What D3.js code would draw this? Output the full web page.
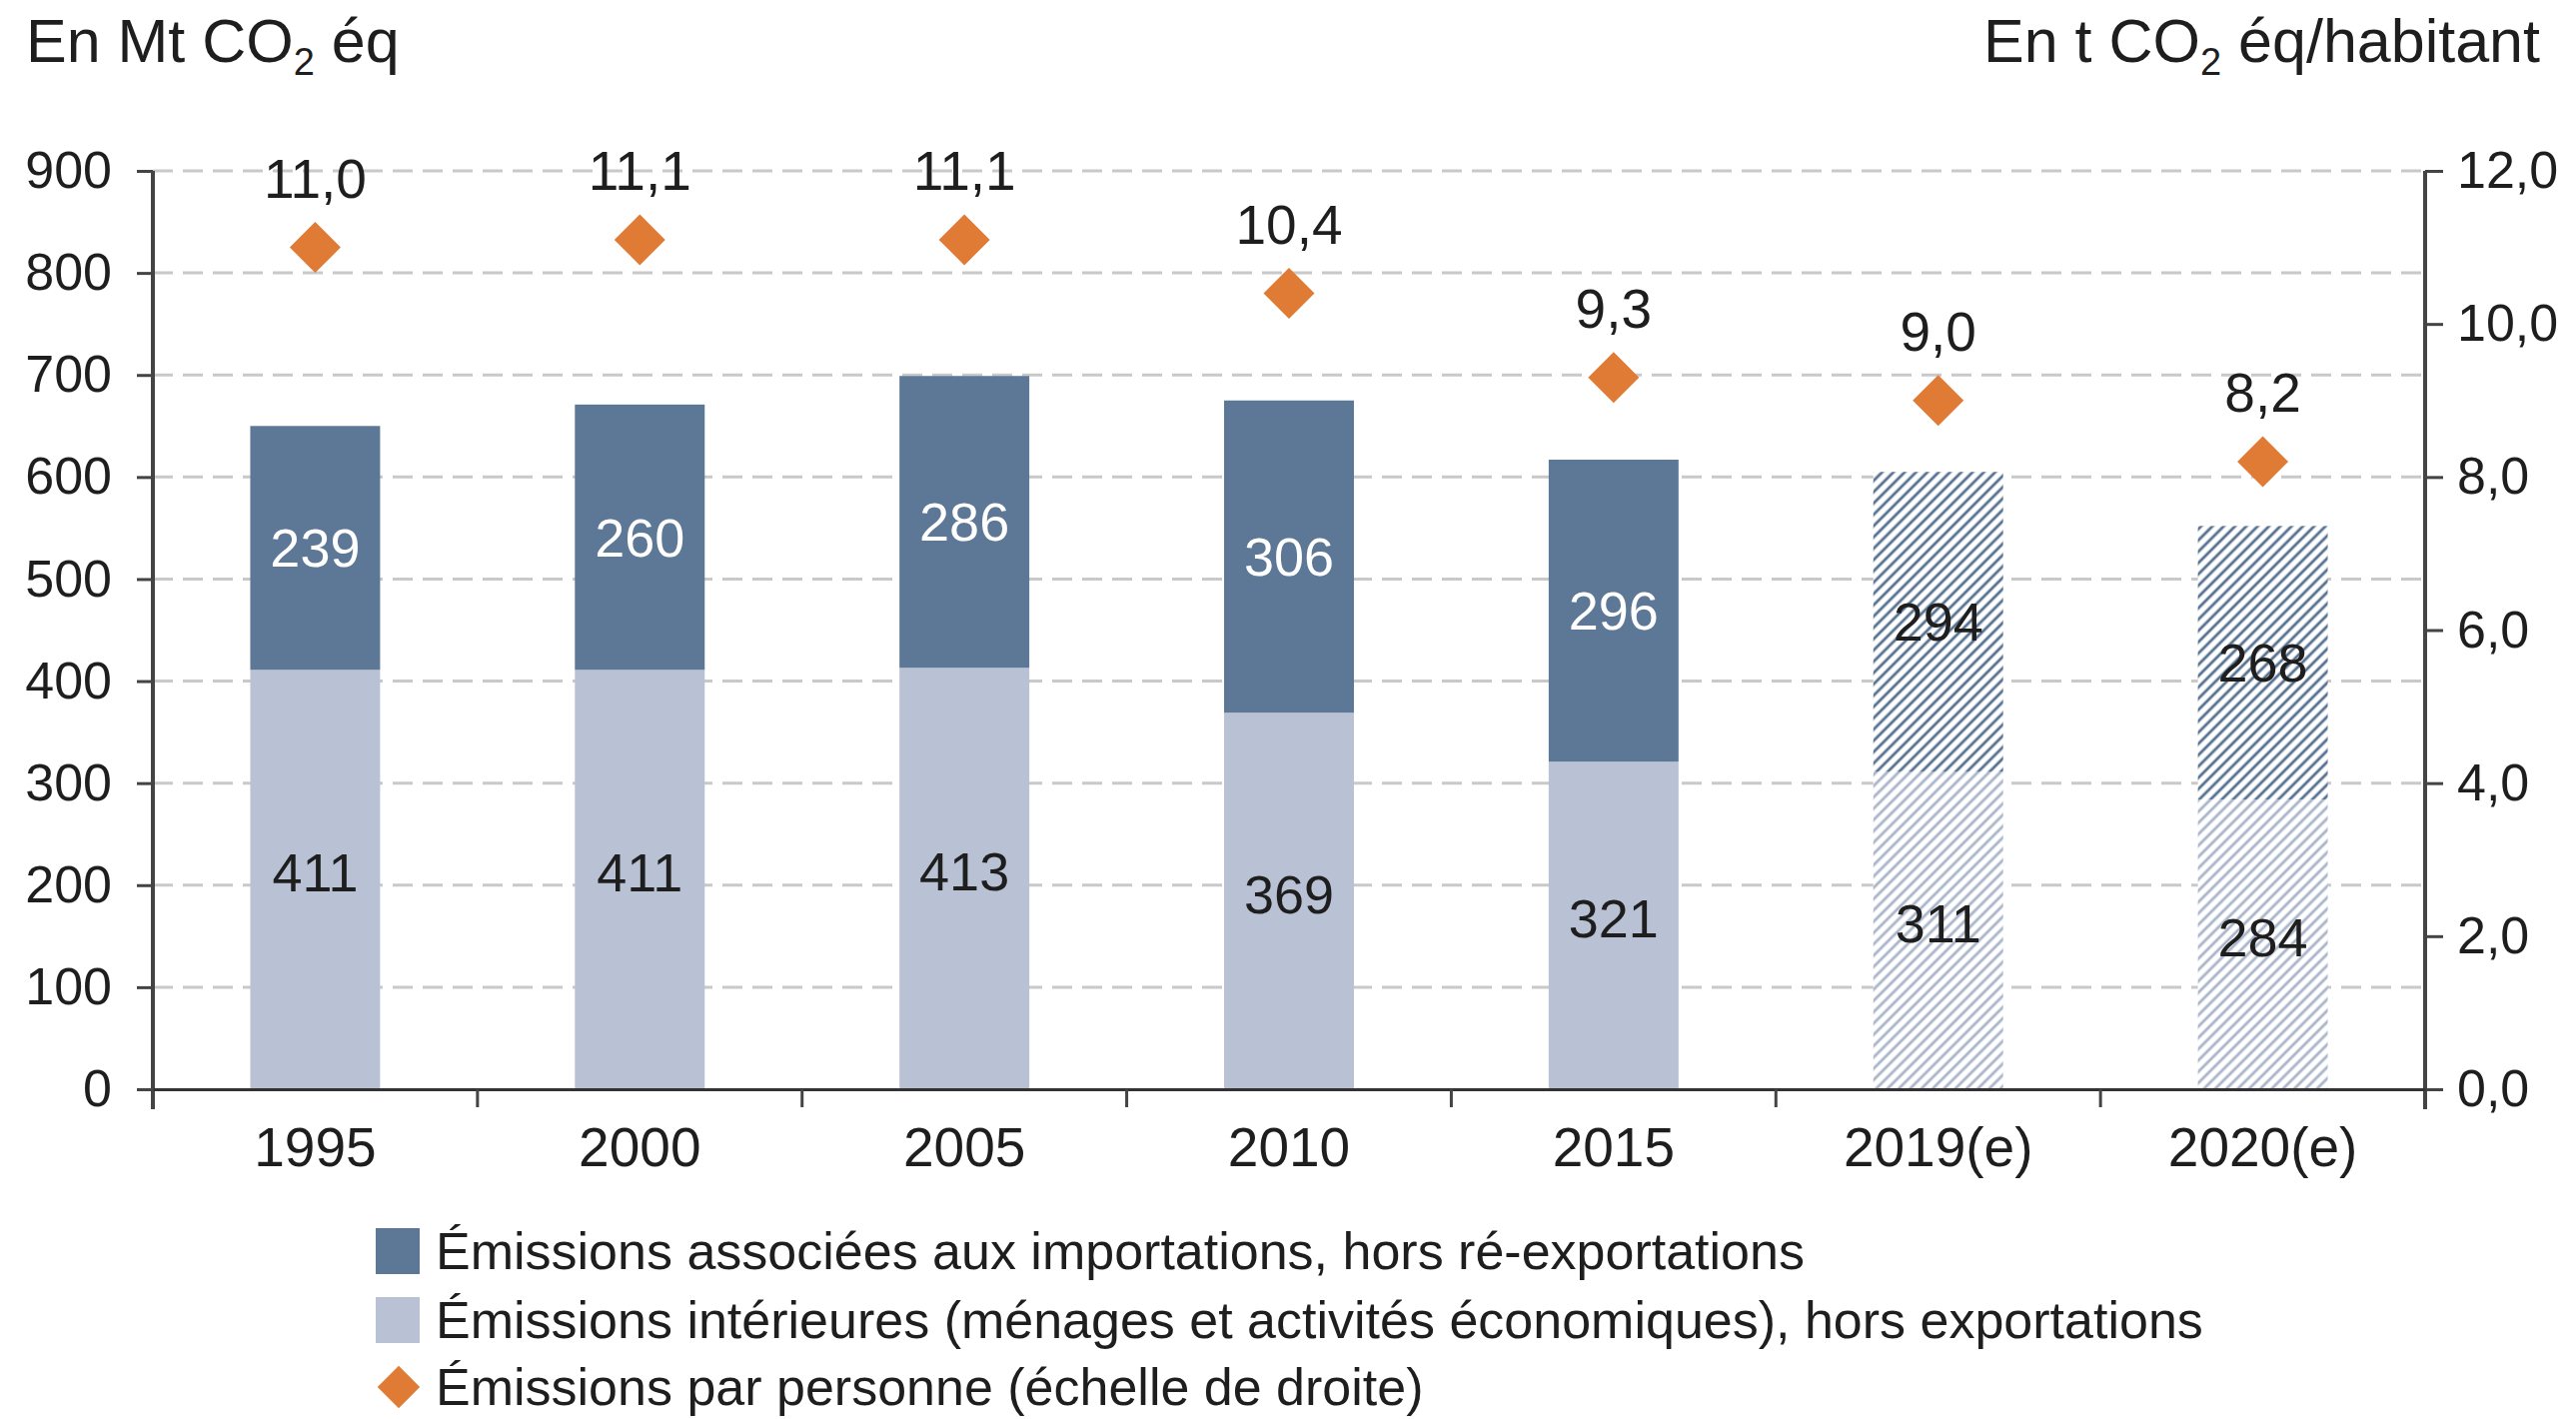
<!DOCTYPE html>
<html>
<head>
<meta charset="utf-8">
<script src="https://cdn.jsdelivr.net/npm/d3@7"></script>
<style>
body { margin: 0; background: #fff; }
text { font-family: "Liberation Sans", Arial, sans-serif; fill: #1e1e1e; }
</style>
</head>
<body>
<script>
// data
var years = ["1995", "2000", "2005", "2010", "2015", "2019(e)", "2020(e)"];
var domestic = [411, 411, 413, 369, 321, 311, 284];
var imports = [239, 260, 286, 306, 296, 294, 268];
var perCapita = [11.0, 11.1, 11.1, 10.4, 9.3, 9.0, 8.2];
var estimated = [false, false, false, false, false, true, true];
var leftTicks = [0, 100, 200, 300, 400, 500, 600, 700, 800, 900];
var rightTicks = [0, 2, 4, 6, 8, 10, 12];
var legendLabels = [
    "Émissions associées aux importations, hors ré-exportations",
    "Émissions intérieures (ménages et activités économiques), hors exportations",
    "Émissions par personne (échelle de droite)"
];

var width = 2578,
    height = 1420;

var colDark = "#5d7896",
    colLight = "#b8c2d4",
    colOrange = "#e07b35";

var fr = d3.formatLocale({decimal: ",", thousands: " ", grouping: [3], currency: ["", " €"]});
var f1 = fr.format(".1f");

var svg = d3.select("body").append("svg")
    .attr("width", width)
    .attr("height", height)

svg.append("rect").attr("width", width).attr("height", height).attr("fill", "#fff")

// hatch patterns for estimated years
var defs = svg.append("defs")
function hatch(id, color) {
    var p = defs.append("pattern")
        .attr("id", id)
        .attr("patternUnits", "userSpaceOnUse")
        .attr("width", 8)
        .attr("height", 8)
        .attr("patternTransform", "rotate(45)")
    p.append("rect").attr("width", 8).attr("height", 8).attr("fill", "#fff")
    p.append("line")
        .attr("x1", 2).attr("y1", 0)
        .attr("x2", 2).attr("y2", 8)
        .attr("stroke", color)
        .attr("stroke-width", 2.8)
}
hatch("hatchDark", "#56718f")
hatch("hatchLight", "#a9b5c9")

var x = d3.scaleBand()
    .domain(years)
    .range([153, 2427])
    .paddingInner(0.6)
    .paddingOuter(0.3)

var y = d3.scaleLinear().domain([0, 900]).range([1090, 171])
var y2 = d3.scaleLinear().domain([0, 12]).range([1090, 171])

var rows = years.map(function (d, i) {
    return {year: d, domestic: domestic[i], imports: imports[i], pc: perCapita[i], est: estimated[i]}
})

/* dashed grid */
svg.append("g").selectAll("line")
    .data(leftTicks.slice(1))
    .enter().append("line")
    .attr("x1", 153).attr("x2", 2427)
    .attr("y1", function (d) { return y(d) })
    .attr("y2", function (d) { return y(d) })
    .attr("stroke", "#c9c9c9")
    .attr("stroke-width", 3)
    .attr("stroke-dasharray", "20 10")

/* stacked bars */
var stack = d3.stack().keys(["domestic", "imports"])(rows)

var layer = svg.append("g").selectAll("g")
    .data(stack)
    .enter().append("g")

layer.selectAll("rect")
    .data(function (s) { return s.map(function (d) { return {key: s.key, d: d} }) })
    .enter().append("rect")
    .attr("x", function (o) { return x(o.d.data.year) })
    .attr("width", x.bandwidth())
    .attr("y", function (o) { return y(o.d[1]) })
    .attr("height", function (o) { return y(o.d[0]) - y(o.d[1]) })
    .attr("fill", function (o) {
        if (o.d.data.est) return o.key == "imports" ? "url(#hatchDark)" : "url(#hatchLight)"
        return o.key == "imports" ? colDark : colLight
    })

/* value labels */
layer.selectAll("text")
    .data(function (s) { return s.map(function (d) { return {key: s.key, d: d} }) })
    .enter().append("text")
    .attr("x", function (o) { return x(o.d.data.year) + x.bandwidth() / 2 })
    .attr("y", function (o) { return (y(o.d[0]) + y(o.d[1])) / 2 + (o.key == "domestic" ? 12 : 19) })
    .attr("text-anchor", "middle")
    .style("font-size", "54px")
    .style("fill", function (o) {
        return (o.key == "imports" && !o.d.data.est) ? "#fff" : "#1e1e1e"
    })
    .text(function (o) { return o.d.data[o.key] })

/* axes */
var axisCol = "#444"

var gl = svg.append("g")
    .attr("transform", "translate(153,0)")
    .call(d3.axisLeft(y).tickValues(leftTicks).tickSize(16).tickPadding(25).tickSizeOuter(0))
gl.select(".domain").remove()
gl.selectAll("line").attr("stroke", axisCol).attr("stroke-width", 3)
gl.selectAll("text").style("font-size", "52px").attr("fill", "#1e1e1e")
gl.append("line").attr("y1", y(900)).attr("y2", y(0) + 20).attr("stroke", axisCol).attr("stroke-width", 4)

var gr = svg.append("g")
    .attr("transform", "translate(2427,0)")
    .call(d3.axisRight(y2).tickValues(rightTicks).tickSize(18).tickPadding(14).tickFormat(f1).tickSizeOuter(0))
gr.select(".domain").remove()
gr.selectAll("line").attr("stroke", axisCol).attr("stroke-width", 3)
gr.selectAll("text").style("font-size", "52px").attr("fill", "#1e1e1e")
gr.append("line").attr("y1", y2(12)).attr("y2", y2(0) + 20).attr("stroke", axisCol).attr("stroke-width", 4)

var gb = svg.append("g")
    .attr("transform", "translate(0,1090)")
    .call(d3.axisBottom(x).tickSize(0).tickPadding(38))
gb.select(".domain").attr("stroke", "#333").attr("stroke-width", 3)
gb.selectAll("text").style("font-size", "55px").attr("fill", "#1e1e1e")

// ticks between categories
gb.selectAll(".sep")
    .data(years.slice(0, -1))
    .enter().append("line")
    .attr("class", "sep")
    .attr("x1", function (d) { return x(d) + x.bandwidth() / 2 + x.step() / 2 })
    .attr("x2", function (d) { return x(d) + x.bandwidth() / 2 + x.step() / 2 })
    .attr("y1", 0).attr("y2", 18)
    .attr("stroke", axisCol).attr("stroke-width", 3)

/* per-capita diamonds */
var diamond = d3.symbol().type(d3.symbolSquare).size(1300)

svg.append("g").selectAll("path")
    .data(rows)
    .enter().append("path")
    .attr("d", diamond)
    .attr("transform", function (d) {
        return "translate(" + (x(d.year) + x.bandwidth() / 2) + "," + y2(d.pc) + ") rotate(45)"
    })
    .attr("fill", colOrange)

svg.append("g").selectAll("text")
    .data(rows)
    .enter().append("text")
    .attr("x", function (d) { return x(d.year) + x.bandwidth() / 2 })
    .attr("y", function (d) { return y2(d.pc) - 50 })
    .attr("text-anchor", "middle")
    .style("font-size", "55px")
    .text(function (d) { return f1(d.pc) })

/* unit titles */
var t1 = svg.append("text").attr("x", 26).attr("y", 62).style("font-size", "61px")
t1.append("tspan").text("En Mt CO")
t1.append("tspan").attr("dy", 13).style("font-size", "38px").text("2")
t1.append("tspan").attr("dy", -13).text(" éq")

var t2 = svg.append("text").attr("x", 2542).attr("y", 62).attr("text-anchor", "end").style("font-size", "61px")
t2.append("tspan").text("En t CO")
t2.append("tspan").attr("dy", 13).style("font-size", "38px").text("2")
t2.append("tspan").attr("dy", -13).text(" éq/habitant")

/* legend */
var legY = [1252, 1321, 1388]
var leg = svg.append("g").selectAll("g")
    .data(legendLabels)
    .enter().append("g")
    .attr("transform", function (d, i) { return "translate(376," + legY[i] + ")" })

leg.filter(function (d, i) { return i < 2 }).append("rect")
    .attr("x", 0).attr("y", -23)
    .attr("width", 44).attr("height", 46)
    .attr("fill", function (d, i) { return i == 0 ? colDark : colLight })

leg.filter(function (d, i) { return i == 2 }).append("path")
    .attr("d", d3.symbol().type(d3.symbolSquare).size(900))
    .attr("transform", "translate(23,0) rotate(45)")
    .attr("fill", colOrange)

leg.append("text")
    .attr("x", 60)
    .attr("y", 18)
    .style("font-size", "52px")
    .text(function (d) { return d })
</script>
</body>
</html>
